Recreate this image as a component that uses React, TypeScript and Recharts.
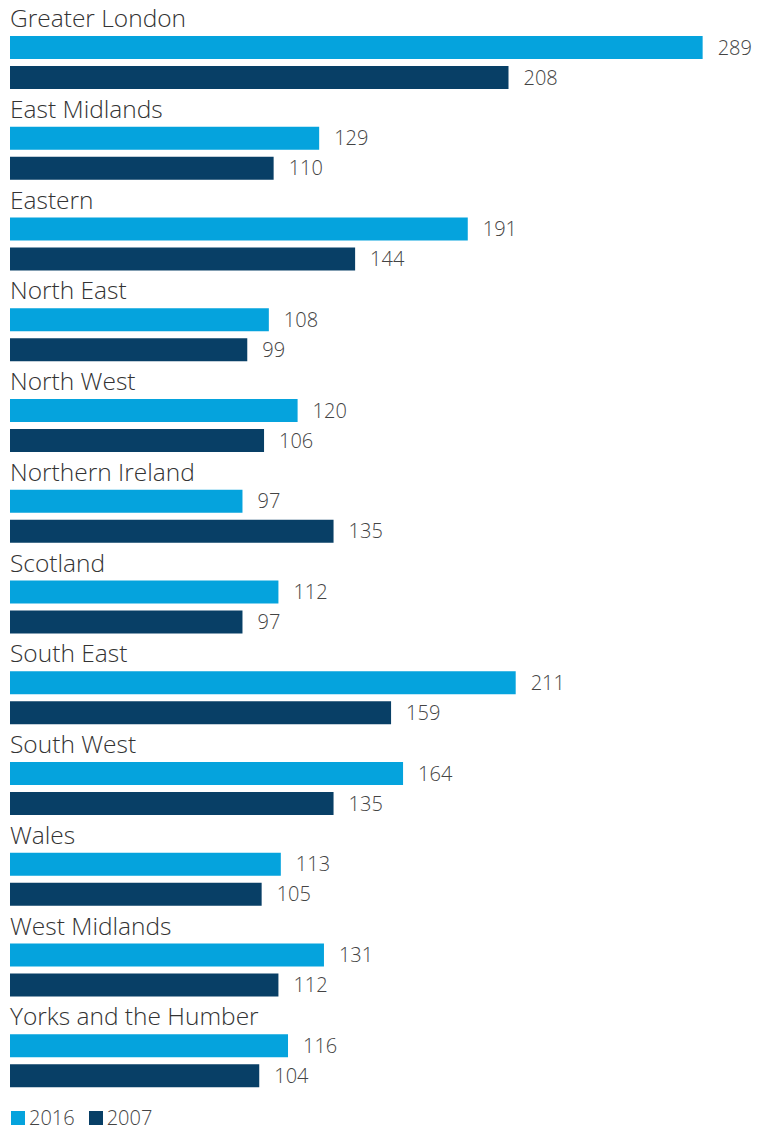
import React from "react";
import { BarChart, Bar, XAxis, YAxis, LabelList } from "recharts";

const regions = [
  "Greater London",
  "East Midlands",
  "Eastern",
  "North East",
  "North West",
  "Northern Ireland",
  "Scotland",
  "South East",
  "South West",
  "Wales",
  "West Midlands",
  "Yorks and the Humber",
];
const values2016 = [289, 129, 191, 108, 120, 97, 112, 211, 164, 113, 131, 116];
const values2007 = [208, 110, 144, 99, 106, 135, 97, 159, 135, 105, 112, 104];
const seriesNames = ["2016", "2007"];

const COLOR_2016 = "#05A3DD";
const COLOR_2007 = "#083F66";
const FONT = "'Open Sans', sans-serif";

const data = regions.map((r, i) => ({ region: r, v2016: values2016[i], v2007: values2007[i] }));

const RegionLabel = (props: any) => {
  const { x, y, value } = props;
  return (
    <text x={x} y={y - 9} fontSize={24.5} fontWeight={300} fill="#333" fontFamily={FONT}>
      {value}
    </text>
  );
};

export default function App() {
  return (
    <div style={{ width: 752, marginTop: -8, fontFamily: FONT }}>
      <BarChart
        layout="vertical"
        width={752}
        height={1106}
        data={data}
        margin={{ top: 17, right: 31, left: 2, bottom: 0 }}
        barGap={7}
      >
        <XAxis type="number" domain={[0, 300]} hide />
        <YAxis type="category" dataKey="region" hide />
        <Bar dataKey="v2016" fill={COLOR_2016} barSize={23} isAnimationActive={false}>
          <LabelList dataKey="region" content={RegionLabel} />
          <LabelList
            dataKey="v2016"
            position="right"
            offset={15}
            fill="#444"
            fontSize={20}
            fontWeight={300}
            fontFamily={FONT}
          />
        </Bar>
        <Bar dataKey="v2007" fill={COLOR_2007} barSize={23} isAnimationActive={false}>
          <LabelList
            dataKey="v2007"
            position="right"
            offset={15}
            fill="#444"
            fontSize={20}
            fontWeight={300}
            fontFamily={FONT}
          />
        </Bar>
      </BarChart>
      <div style={{ display: "flex", alignItems: "center", height: 23, paddingLeft: 3, fontSize: 20, fontWeight: 300, color: "#444" }}>
        {seriesNames.map((n, i) => (
          <div key={n} style={{ display: "flex", alignItems: "center", marginRight: 14 }}>
            <span style={{ display: "inline-block", width: 14, height: 14, background: i === 0 ? COLOR_2016 : COLOR_2007, marginRight: 4 }} />
            <span style={{ lineHeight: "20px" }}>{n}</span>
          </div>
        ))}
      </div>
    </div>
  );
}
